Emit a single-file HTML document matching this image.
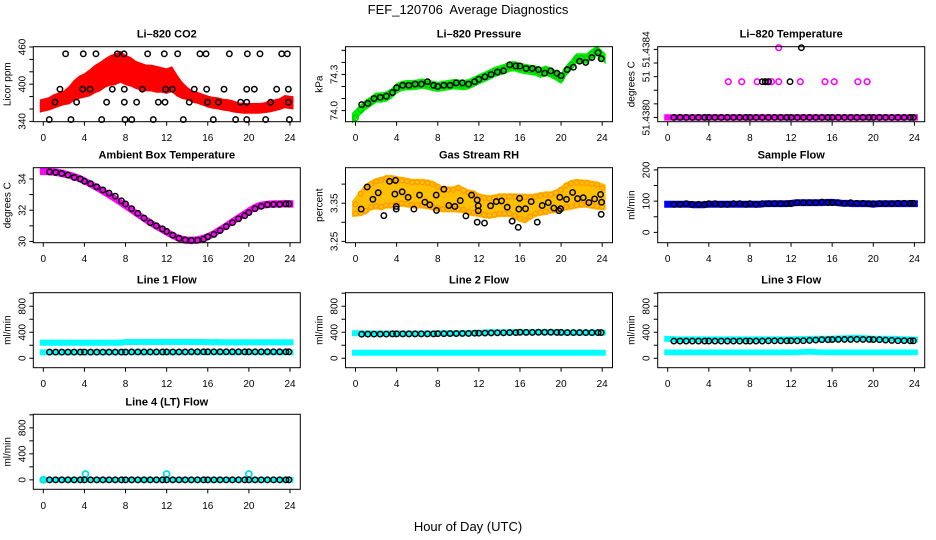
<!DOCTYPE html>
<html><head><meta charset="utf-8">
<style>
html,body{margin:0;padding:0;background:#fff;}
svg{display:block;font-family:"Liberation Sans",Arial,sans-serif;}
</style></head>
<body>
<svg id="chart" width="936" height="540" viewBox="0 0 936 540" xmlns="http://www.w3.org/2000/svg">
<rect x="0" y="0" width="936" height="540" fill="#fff"/>
<text x="468" y="14" text-anchor="middle" font-size="13" xml:space="preserve">FEF_120706  Average Diagnostics</text>
<text x="468" y="531" text-anchor="middle" font-size="13">Hour of Day (UTC)</text>
</svg>
<script>
const NS = "http://www.w3.org/2000/svg";
const halfHours = Array.from({length:49},(_,i)=>i/2);
const xTicks = [0,4,8,12,16,20,24];
const blkT = [0.6,1.2,1.8,2.4,3.0,3.6,4.0,4.6,5.2,5.8,6.4,7.0,7.6,8.0,8.6,9.2,9.8,10.4,11.0,11.6,12.0,12.6,13.2,13.8,14.4,15.0,15.6,16.0,16.6,17.2,17.8,18.4,19.0,19.6,20.0,20.6,21.2,21.8,22.4,23.0,23.6,23.9];

// CO2
const co2Mid = [365,368,372,375,378,382,390,395,398,402,408,412,418,422,424,428,423,420,415,412,410,410,408,407,405,408,398,390,385,380,378,375,372,370,369,367,366,364,362,361,361,361,361,362,364,366,368,372,370];
const co2Spread = [5,5,6,6,6,9,11,13,14,16,17,18,18,19,20,20,19,18,17,17,16,16,16,15,15,15,12,8,5,4,4,4,4,4,4,4,4,4,3,3,3,3,3,3,4,4,4,5,5];
const co2BlkT = [0.58,1.62,1.14,2.17,2.69,3.24,3.89,3.83,4.54,5.12,5.68,6.16,6.71,7.2,7.85,7.88,7.88,7.95,8.6,9.08,9.63,10.15,10.7,11.19,11.84,11.9,11.77,12.55,13.07,13.62,14.2,14.69,15.24,15.83,15.89,15.96,16.54,17.03,17.58,18.1,18.71,19.2,19.79,19.85,19.79,19.79,20.53,21.08,21.63,22.12,22.7,23.19,23.74,23.84,23.84,23.94];
const co2BlkV = [343,392,371,449,343,371,449,392,392,449,343,371,392,449,449,371,392,343,343,371,392,449,343,371,371,392,449,392,449,343,371,392,449,449,392,371,343,371,392,449,343,371,371,449,392,343,392,449,343,371,392,449,449,392,371,343];

// Pressure
const presMid = [73.94,74.008,74.049,74.076,74.108,74.108,74.116,74.143,74.184,74.205,74.211,74.211,74.216,74.224,74.216,74.205,74.197,74.205,74.211,74.219,74.216,74.211,74.219,74.238,74.259,74.278,74.297,74.319,74.332,74.346,74.365,74.368,74.354,74.346,74.338,74.332,74.314,74.332,74.314,74.292,74.265,74.332,74.378,74.432,74.432,74.432,74.468,74.495,74.432];
const presBlk = [74.05,74.06,74.1,74.11,74.12,74.15,74.19,74.21,74.21,74.22,74.22,74.24,74.21,74.2,74.21,74.21,74.23,74.23,74.22,74.24,74.26,74.28,74.3,74.32,74.33,74.38,74.37,74.37,74.35,74.35,74.34,74.31,74.33,74.31,74.29,74.34,74.36,74.41,74.4,74.44,74.48,74.43];

// Li-820 temperature
const tempMag = halfHours.map(()=>51.4380);
const tempMagExtraT = [5.9,7.2,8.7,9.5,9.8,10.1,10.8,12.9,15.3,16.2,18.5,19.4,10.8];
const tempMagExtraV = [51.43821,51.43821,51.43821,51.43821,51.43821,51.43821,51.43821,51.43821,51.43821,51.43821,51.43821,51.43821,51.43841];
const tempBlk = blkT.map(()=>51.4380);
const tempBlkExtraT = [9.2,9.5,9.8,11.9,13.0];
const tempBlkExtraV = [51.43821,51.43821,51.43821,51.43821,51.43841];

// Ambient
const ambMid = [34.5,34.48,34.45,34.4,34.33,34.25,34.15,34.03,33.88,33.7,33.52,33.33,33.13,32.93,32.72,32.5,32.28,32.05,31.82,31.6,31.38,31.17,30.97,30.78,30.6,30.42,30.25,30.13,30.07,30.07,30.1,30.18,30.3,30.47,30.67,30.88,31.1,31.32,31.53,31.73,31.95,32.15,32.28,32.35,32.38,32.4,32.4,32.42,32.4];
const ambBlk = [34.45,34.42,34.35,34.25,34.1,34.0,33.85,33.7,33.5,33.3,33.1,32.9,32.6,32.4,32.1,31.8,31.5,31.2,31.0,30.8,30.65,30.4,30.2,30.1,30.07,30.08,30.15,30.3,30.45,30.7,30.95,31.2,31.45,31.65,31.85,32.1,32.25,32.35,32.38,32.38,32.4,32.4];

// RH
const rhMid = [3.335,3.35,3.36,3.37,3.375,3.375,3.38,3.38,3.38,3.38,3.378,3.375,3.375,3.375,3.373,3.37,3.365,3.36,3.36,3.36,3.362,3.358,3.352,3.35,3.345,3.342,3.34,3.342,3.345,3.345,3.345,3.342,3.338,3.336,3.34,3.345,3.348,3.35,3.352,3.355,3.36,3.368,3.372,3.375,3.375,3.375,3.372,3.37,3.365];
const rhSpread = [0.012,0.025,0.03,0.03,0.032,0.035,0.035,0.035,0.032,0.03,0.03,0.03,0.03,0.03,0.03,0.03,0.028,0.025,0.025,0.025,0.028,0.025,0.025,0.025,0.022,0.022,0.022,0.022,0.022,0.022,0.022,0.025,0.028,0.03,0.025,0.022,0.022,0.022,0.02,0.022,0.025,0.028,0.03,0.03,0.028,0.028,0.028,0.028,0.025];
const rhBlkT = [0.55,1.14,1.69,2.21,2.76,3.31,3.89,3.83,3.96,3.96,4.54,5.12,5.68,6.23,6.75,7.23,7.85,7.88,8.6,9.08,9.67,10.19,10.74,11.29,11.84,11.84,11.94,11.94,12.55,13.14,13.69,14.21,14.76,15.24,15.83,15.89,15.96,16.54,17.09,17.68,18.16,18.75,19.3,19.79,19.88,19.95,20.53,21.12,21.6,22.15,22.7,23.26,23.84,23.9,23.94];
const rhBlkV = [3.3346,3.3927,3.3603,3.3774,3.3175,3.4073,3.4098,3.3739,3.3415,3.3346,3.3799,3.3654,3.3346,3.3714,3.3526,3.3457,3.3714,3.3312,3.3868,3.344,3.3415,3.3568,3.3167,3.3714,3.3585,3.3004,3.3432,3.3303,3.2979,3.3432,3.3543,3.356,3.3397,3.303,3.2868,3.3346,3.3628,3.3355,3.3543,3.3004,3.344,3.3517,3.3372,3.3303,3.3654,3.3355,3.3603,3.3782,3.362,3.3645,3.3517,3.3611,3.3731,3.3209,3.3526];

// Sample flow
const sampMid = [90,90,90,90,90,88,88,88,90,90,90,90,90,90,90,90,90,90,90,92,92,92,92,92,93,95,95,95,95,95,95,96,96,95,93,93,92,92,92,92,90,92,92,92,92,92,92,92,92];
const sampBlk = [90,90,92,90,90,90,92,92,90,90,92,92,90,92,90,92,92,92,92,92,92,95,95,95,95,97,95,95,95,93,95,93,93,92,92,92,92,92,93,93,93,93];

// Line flows
const l1Up = [240,240,240,240,240,240,240,240,240,240,240,240,240,240,240,240,250,250,250,250,250,250,250,250,250,250,250,250,250,250,250,250,248,248,248,245,245,245,245,245,245,245,245,245,245,245,245,245,245];
const l1Lo = halfHours.map(()=>92);
const l1Blk = [95,95,95,95,95,95,95,95,95,95,95,95,95,95,97,97,97,97,98,98,98,98,98,98,100,100,100,100,100,100,100,100,100,100,100,100,100,100,100,100,100,100];
const l2Up = [385,385,380,380,380,380,380,380,380,380,380,380,380,380,380,380,385,385,385,385,385,385,385,390,390,395,400,400,400,400,400,400,400,400,400,400,400,400,400,400,395,395,395,395,395,395,395,395,395];
const l2Lo = halfHours.map(()=>85);
const l2Blk = [370,372,372,372,372,375,375,375,375,375,375,375,375,378,378,380,380,382,382,385,385,388,390,392,392,395,395,400,398,398,400,400,400,398,398,395,395,395,395,395,395,395];
const l3Up = [300,295,290,290,290,290,290,290,290,290,290,290,290,290,290,290,290,290,290,290,290,290,290,290,290,295,295,295,300,300,300,300,300,305,305,310,315,315,310,305,300,300,300,300,300,295,290,290,285];
const l3Lo = [90,90,90,90,90,90,90,90,90,90,90,90,90,90,90,90,90,90,90,90,90,90,90,90,90,90,95,100,100,95,90,90,90,90,90,90,90,90,90,90,90,90,90,90,90,90,90,90,90];
const l3Blk = [265,265,265,265,265,265,265,265,265,265,265,265,265,265,265,265,268,268,268,268,270,268,270,275,280,285,285,288,290,290,290,292,290,290,288,285,280,275,270,270,268,268];
const l4Cyan = halfHours.map(()=>0);
const l4SpikeT = [0,4.1,12,20];
const l4SpikeV = [0,90,90,90];
const l4Blk = blkT.map(()=>0);

const svg = document.getElementById('chart');
function el(tag, attrs, parent){
  const e = document.createElementNS(NS, tag);
  for (const k in attrs) e.setAttribute(k, attrs[k]);
  (parent||svg).appendChild(e);
  return e;
}
const colLeft = [33.3, 345.5, 657.7];
const rowTop = [46.7, 167.7, 292.7, 414.3];
const PW = 267, PH = 75;

function panel(name, col, row, title, ylab, ymin, ymax, yTicks, yLabels){
  const L = colLeft[col], T = rowTop[row];
  const g = el('g', {});
  
  
  const sx = t => L + 10 + (t) * (246.7/24);
  const sy = v => T + PH - (v - ymin) / (ymax - ymin) * PH;
  const tt = el('text', {x: L + PW/2, y: T - 9, 'text-anchor':'middle', 'font-size':11, 'font-weight':'bold'}, g);
  tt.textContent = title;
  
  
  const yt = el('text', {transform:`translate(${L-23},${T+PH/2}) rotate(-90)`, 'text-anchor':'middle', 'font-size':10}, g);
  yt.textContent = ylab;
  
  
  xTicks.forEach(t => {
    el('line', {x1:sx(t), x2:sx(t), y1:T+PH, y2:T+PH+4, stroke:'#000', 'stroke-width':1}, g);
    const tx = el('text', {x:sx(t), y:T+PH+19.5, 'text-anchor':'middle', 'font-size':10}, g);
    tx.textContent = t;
    
    
  });
  yTicks.forEach((v,i) => {
    el('line', {x1:L-4, x2:L, y1:sy(v), y2:sy(v), stroke:'#000', 'stroke-width':1}, g);
    if (yLabels[i]) {
      const ty = el('text', {transform:`translate(${L-8},${sy(v)}) rotate(-90)`, 'text-anchor':'middle', 'font-size':10}, g);
      ty.textContent = yLabels[i];
      
      
    }
  });
  const plot = el('g', {}, g);
  const frame = el('rect', {x:L, y:T, width:PW, height:PH, fill:'none', stroke:'#000', 'stroke-width':1}, g);
  
  
  return {g: plot, sx, sy};
}

function band(p, times, mid, spread, fill, name, pad){
  const pd = pad === undefined ? 3 : pad;
  const up = [], lo = [];
  times.forEach((t,i) => {
    const s = Array.isArray(spread) ? spread[i] : spread;
    up.push([p.sx(t), p.sy(mid[i] + s) - pd]);
    lo.push([p.sx(t), p.sy(mid[i] - s) + pd]);
  });
  up[0][0] -= 3; lo[0][0] -= 3; up[up.length-1][0] += 3; lo[lo.length-1][0] += 3;
  const pts = up.concat(lo.reverse()).map(q => q[0].toFixed(1)+','+q[1].toFixed(1)).join(' ');
  const poly = el('polygon', {points: pts, fill: fill, stroke: fill, 'stroke-width':1}, p.g);
  
  
}
function dots(p, times, vals, color, name, r, sw){
  times.forEach((t,i) => {
    const c = el('circle', {cx:p.sx(t), cy:p.sy(vals[i]), r:r||2.7, fill:'none', stroke:color, 'stroke-width':sw||1.5}, p.g);
    
    
  });
}

// 1 CO2
let p = panel('co2', 0, 0, 'Li\u2013820 CO2', 'Licor ppm', 339.5, 460.5, [340,360,380,400,420,440,460], ['340','','','400','','','460']);
band(p, halfHours, co2Mid, co2Spread, '#ff0000', 'co2-raw-band');
dots(p, halfHours, co2Mid, '#ff0000', 'co2-raw-point', 2.8, 1.6);
dots(p, co2BlkT, co2BlkV, '#000', 'co2-average-point');

// 2 Pressure
p = panel('pressure', 1, 0, 'Li\u2013820 Pressure', 'kPa', 73.908, 74.53, [74.0,74.1,74.2,74.3,74.4,74.5], ['74.0','','','74.3','','']);
band(p, halfHours, presMid, 0.014, '#00ee00', 'pressure-raw-band');
dots(p, halfHours, presMid, '#00cc00', 'pressure-raw-point', 2.8, 1.4);
dots(p, blkT, presBlk, '#000', 'pressure-average-point');

// 3 Li-820 Temperature
p = panel('li820-temp', 2, 0, 'Li\u2013820 Temperature', 'degrees C', 51.437975, 51.438416, [51.4380,51.43808,51.43816,51.43824,51.43832,51.4384], ['51.4380','','','51','','51.4384']);
band(p, halfHours, tempMag, 0.000001, '#ff00ff', 'li820-temp-raw-band', 2.5);
dots(p, tempMagExtraT, tempMagExtraV, '#ff00ff', 'li820-temp-raw-point', 2.8, 1.6);
dots(p, blkT, tempBlk, '#000', 'li820-temp-average-point');
dots(p, tempBlkExtraT, tempBlkExtraV, '#000', 'li820-temp-average-point');

// 4 Ambient
p = panel('ambient-temp', 0, 1, 'Ambient Box Temperature', 'degrees C', 29.92, 34.72, [30,31,32,33,34], ['30','','32','','34']);
band(p, halfHours, ambMid, 0.05, '#ff00ff', 'ambient-raw-band', 2.5);
dots(p, blkT, ambBlk, '#000', 'ambient-average-point');

// 5 RH
p = panel('gas-rh', 1, 1, 'Gas Stream RH', 'percent', 3.2466, 3.443, [3.25,3.30,3.35,3.40], ['3.25','','3.35','']);
band(p, halfHours, rhMid, rhSpread, '#ffc000', 'rh-raw-band');
dots(p, halfHours, rhMid.map((v,i)=>v+rhSpread[i]), '#ff9900', 'rh-raw-point', 2.4, 1.3);
dots(p, halfHours, rhMid.map((v,i)=>v-rhSpread[i]), '#ff9900', 'rh-raw-point', 2.4, 1.3);
dots(p, rhBlkT, rhBlkV, '#000', 'rh-average-point');

// 6 Sample flow
p = panel('sample-flow', 2, 1, 'Sample Flow', 'ml/min', -33, 207, [0,50,100,150,200], ['0','','100','','200']);
band(p, halfHours, sampMid, 3, '#0000ff', 'sample-flow-raw-band', 2);
dots(p, blkT, sampBlk, '#000', 'sample-flow-average-point');

const flowTicks = [0,200,400,600,800,1000];
const flowLabels = ['0','','400','','800',''];
// 7 Line 1
p = panel('line1-flow', 0, 2, 'Line 1 Flow', 'ml/min', -145, 1008, flowTicks, flowLabels);
band(p, halfHours, l1Up, 8, '#00ffff', 'line1-upper-band', 2);
band(p, halfHours, l1Lo, 6, '#00ffff', 'line1-lower-band', 2);
dots(p, blkT, l1Blk, '#000', 'line1-average-point');

// 8 Line 2
p = panel('line2-flow', 1, 2, 'Line 2 Flow', 'ml/min', -145, 1008, flowTicks, flowLabels);
band(p, halfHours, l2Up, 8, '#00ffff', 'line2-upper-band', 2);
band(p, halfHours, l2Lo, 8, '#00ffff', 'line2-lower-band', 2);
dots(p, blkT, l2Blk, '#000', 'line2-average-point');

// 9 Line 3
p = panel('line3-flow', 2, 2, 'Line 3 Flow', 'ml/min', -145, 1008, flowTicks, flowLabels);
band(p, halfHours, l3Up, 8, '#00ffff', 'line3-upper-band', 2);
band(p, halfHours, l3Lo, 6, '#00ffff', 'line3-lower-band', 2);
dots(p, blkT, l3Blk, '#000', 'line3-average-point');

// 10 Line 4
p = panel('line4-flow', 0, 3, 'Line 4 (LT) Flow', 'ml/min', -145, 1008, flowTicks, flowLabels);
band(p, halfHours, l4Cyan, 4, '#00ffff', 'line4-raw-band', 2);
dots(p, l4SpikeT, l4SpikeV, '#00e0e0', 'line4-raw-point', 3, 1.8);
dots(p, blkT, l4Blk, '#000', 'line4-average-point');
</script>
</body></html>
